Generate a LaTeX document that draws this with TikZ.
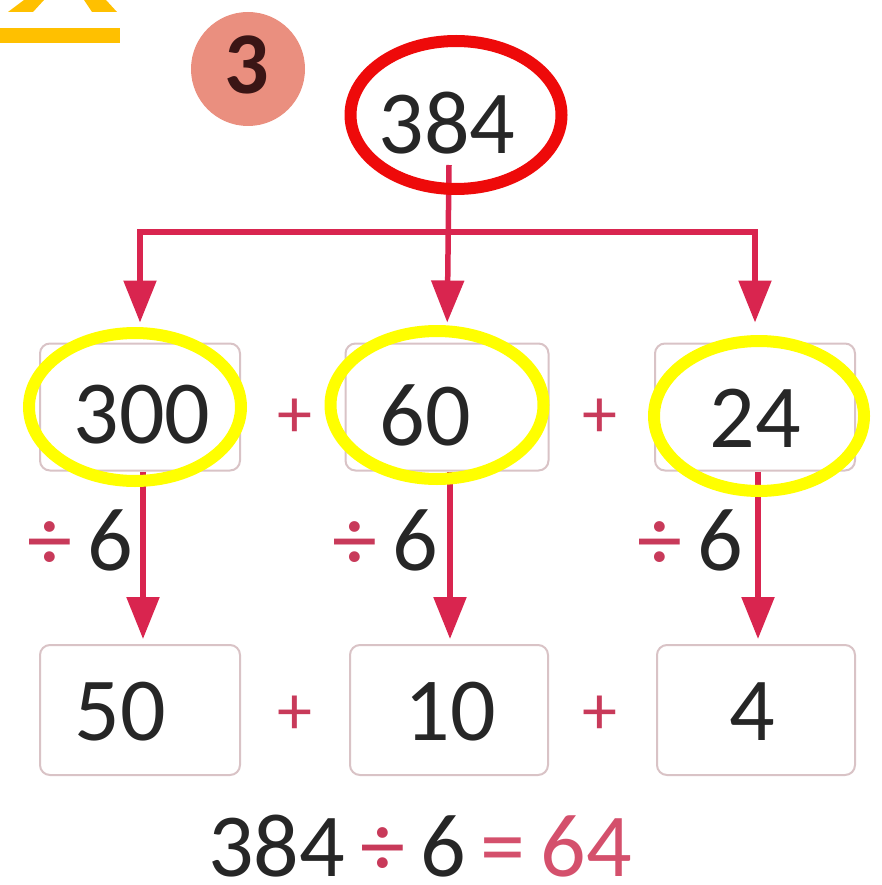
\documentclass[tikz,border=0pt]{standalone}
\usepackage{fontspec}
\setmainfont{Carlito}
\usetikzlibrary{arrows.meta,shapes.geometric}
\definecolor{arrowred}{HTML}{D9254F}
\definecolor{plusred}{HTML}{C83A5A}
\definecolor{pinktxt}{HTML}{D4506C}
\definecolor{boxline}{HTML}{D9C3C6}
\definecolor{darktxt}{HTML}{262626}
\definecolor{hlred}{HTML}{EE0A0A}
\definecolor{hlyellow}{HTML}{FFFF00}
\definecolor{agold}{HTML}{FFC000}
\definecolor{badge}{HTML}{EA8F7F}
\definecolor{badgetxt}{HTML}{3A1515}
\begin{document}
\begin{tikzpicture}[x=1pt,y=-1pt,
  num/.style={inner sep=0pt, text=darktxt, font=\fontsize{90}{100}\selectfont},
  opsign/.style={inner sep=0pt, text=plusred, font=\fontsize{70}{80}\selectfont},
  numbox/.style={draw=boxline, line width=2pt, rounded corners=10pt, minimum width=200pt, minimum height=127pt, fill=white},
  conn/.style={draw=arrowred, line width=5.5pt},
  arr/.style={conn, -{Triangle[width=32pt,length=42pt]}},
  hlring/.style={ellipse, draw=#1, line width=12pt, inner sep=0pt},
]
\useasboundingbox (0,0) rectangle (882,885);
% yellow letter fragment
\fill[agold] (24,0) -- (44,0) -- (33,12) -- (8,12) -- cycle;
\fill[agold] (84,0) -- (106,0) -- (117,12) -- (92,12) -- cycle;
\fill[agold] (0,28) rectangle (120,43);
% badge
\node[circle, fill=badge, minimum size=114pt, inner sep=0pt] (badge) at (248,69) {};
\node[inner sep=0pt, text=badgetxt, font=\bfseries\fontsize{88}{96}\selectfont] (three) at (247,65) {3};
% top number
\node[num] (top) at (447,123) {384};
% boxes row 1
\node[numbox] (b1) at (140,407) {};
\node[numbox, minimum width=203pt] (b2) at (447,407) {};
\node[numbox] (b3) at (755,407) {};
\node[num] (t1) at (142,415) {300};
\node[num] (t2) at (425,415) {60};
\node[num] (t3) at (755,418) {24};
\node[opsign] (p1) at (295,418) {+};
\node[opsign] (p2) at (600,418) {+};
% boxes row 2
\node[numbox, minimum height=130pt] (c1) at (140,710) {};
\node[numbox, minimum height=130pt, minimum width=198pt] (c2) at (449,710) {};
\node[numbox, minimum height=130pt, minimum width=198pt] (c3) at (756,710) {};
\node[num] (u1) at (120,712) {50};
\node[num] (u2) at (450,712) {10};
\node[num] (u3) at (752,712) {4};
\node[opsign] (q1) at (295,715) {+};
\node[opsign] (q2) at (600,715) {+};
% connectors
\coordinate (s0) at (449,165);
\coordinate (split) at (449,232);
\draw[arr, shorten >=20pt] (s0) -- (b2.north);
\draw[conn, {Triangle[width=32pt,length=42pt]}-{Triangle[width=32pt,length=42pt]}, shorten <=20pt, shorten >=20pt]
  (b1.north) -- (b1.north |- split) -- (b3.north |- split) -- (b3.north);
\draw[arr, shorten >=5pt] (b1.south -| 143,0) -- (c1.north -| 143,0);
\draw[arr, shorten >=5pt] (b2.south -| 450,0) -- (c2.north -| 450,0);
\draw[arr, shorten >=5pt] (b3.south -| 758,0) -- (c3.north -| 758,0);
% divide labels
\node[num] (d1) at (80,540) {\textcolor{plusred}{÷}\,6};
\node[num] (d2) at (385,540) {\textcolor{plusred}{÷}\,6};
\node[num] (d3) at (690,540) {\textcolor{plusred}{÷}\,6};
% bottom equation
\node[num] (eq) at (420,846) {384\,\textcolor{plusred}{÷}\,6\,\textcolor{pinktxt}{=\,64}};
% highlight rings
\node[hlring=hlred, minimum width=211pt, minimum height=148pt] (r0) at (456,115) {};
\node[hlring=hlyellow, minimum width=212pt, minimum height=148pt] (y1) at (135,407) {};
\node[hlring=hlyellow, minimum width=213pt, minimum height=148pt] (y2) at (437,405) {};
\node[hlring=hlyellow, minimum width=210pt, minimum height=150pt] (y3) at (759,416) {};
\end{tikzpicture}
\end{document}
